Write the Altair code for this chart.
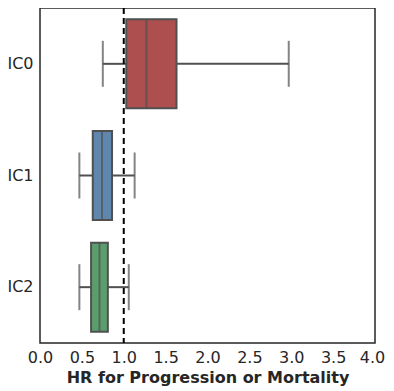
import altair as alt
import pandas as pd

groups = ["IC0", "IC1", "IC2"]
whisker_low = [0.75, 0.47, 0.47]
q1 = [1.03, 0.63, 0.61]
median = [1.27, 0.74, 0.71]
q3 = [1.63, 0.86, 0.81]
whisker_high = [2.97, 1.13, 1.06]
colors = ["#ad4f4f", "#5f86ac", "#5b9e6d"]
ref_value = [1.0]
x_ticks = [0.0, 0.5, 1.0, 1.5, 2.0, 2.5, 3.0, 3.5, 4.0]

df = pd.DataFrame({
    "group": groups, "lo": whisker_low, "q1": q1, "med": median,
    "q3": q3, "hi": whisker_high,
})
ref = pd.DataFrame({"x": ref_value})

line_col = "#505050"
xs = alt.Scale(domain=[0, 4], nice=False, zero=False)
ys = alt.Scale(domain=groups, paddingInner=0, paddingOuter=0)

x_axis = alt.Axis(values=x_ticks, format=".1f", grid=False, ticks=False,
                  labelFontSize=16, labelColor="#262626", labelPadding=6,
                  labelFlush=False, labelOverlap=False,
                  labelOffset={"condition": {"test": "datum.value >= 4", "value": -3}, "value": 0},
                  title="HR for Progression or Mortality", titleFontSize=16,
                  titleFontWeight="bold", titleColor="#262626", titlePadding=4,
                  domain=False, labelFont="DejaVu Sans", titleFont="DejaVu Sans")
y_axis = alt.Axis(title=None, ticks=False, grid=False, domain=False,
                  labelFontSize=16, labelColor="#262626", labelPadding=7,
                  labelFont="DejaVu Sans")

base = alt.Chart(df)

whisk_lo = base.mark_rule(color=line_col, strokeWidth=2).encode(
    x=alt.X("lo:Q", scale=xs, axis=x_axis), x2="q1:Q",
    y=alt.Y("group:N", scale=ys, axis=y_axis))
whisk_hi = base.mark_rule(color=line_col, strokeWidth=2).encode(
    x=alt.X("q3:Q", scale=xs), x2="hi:Q", y=alt.Y("group:N", scale=ys))
cap_lo = base.mark_tick(color=line_col, thickness=2, size=46, orient="vertical").encode(
    x=alt.X("lo:Q", scale=xs), y=alt.Y("group:N", scale=ys))
cap_hi = base.mark_tick(color=line_col, thickness=2, size=46, orient="vertical").encode(
    x=alt.X("hi:Q", scale=xs), y=alt.Y("group:N", scale=ys))
box = base.mark_bar(size=89, stroke=line_col, strokeWidth=2).encode(
    x=alt.X("q1:Q", scale=xs), x2="q3:Q", y=alt.Y("group:N", scale=ys),
    color=alt.Color("group:N", scale=alt.Scale(domain=groups, range=colors), legend=None))
med = base.mark_tick(color=line_col, thickness=2, size=89, orient="vertical").encode(
    x=alt.X("med:Q", scale=xs), y=alt.Y("group:N", scale=ys))
refline = alt.Chart(ref).mark_rule(color="black", strokeWidth=2, strokeDash=[6, 4]).encode(
    x=alt.X("x:Q", scale=xs))

chart = alt.layer(whisk_lo, whisk_hi, cap_lo, cap_hi, box, med, refline).properties(
    width=335, height=335,
    autosize=alt.AutoSizeParams(type="none"),
    padding={"left": 32, "top": 0, "right": 11, "bottom": 48},
    background="white",
).configure_view(stroke="#262626", strokeWidth=1.5)

chart.save("out.html", embed_options={"renderer": "svg", "actions": False})
